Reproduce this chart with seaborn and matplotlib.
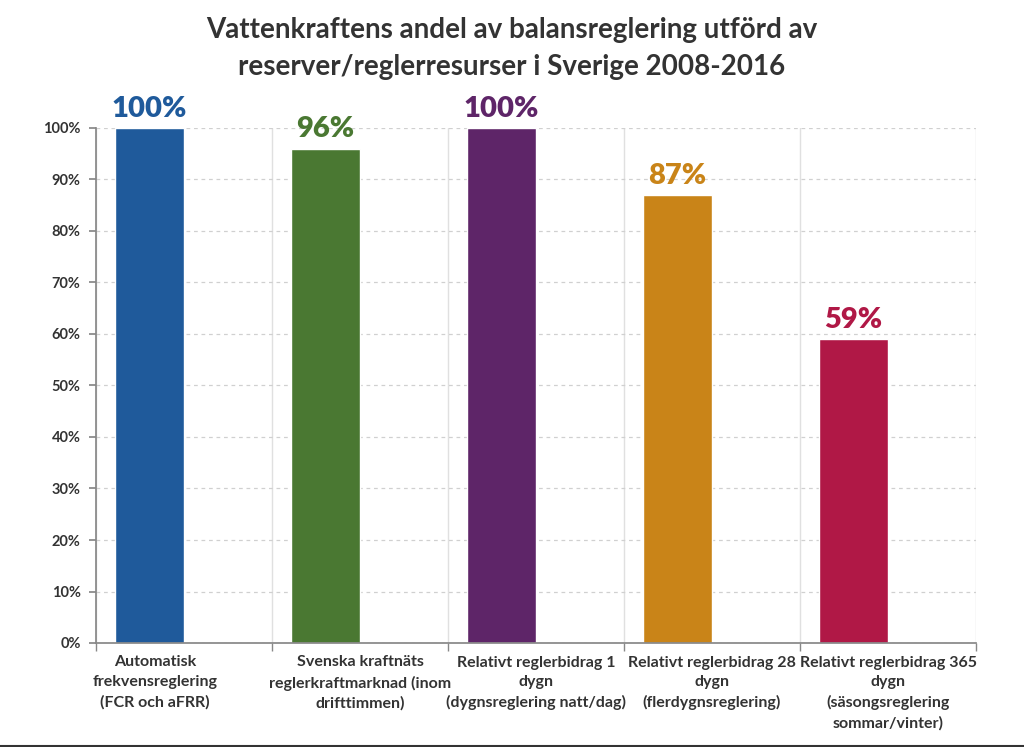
import numpy as np
import pandas as pd
import seaborn as sns
import matplotlib.pyplot as plt
from matplotlib.ticker import PercentFormatter, FixedLocator
from matplotlib.transforms import ScaledTranslation

# data
categories = [
    "Automatisk\nfrekvensreglering\n(FCR och aFRR)",
    "Svenska kraftnäts\nreglerkraftmarknad (inom\ndrifttimmen)",
    "Relativt reglerbidrag 1\ndygn\n(dygnsreglering natt/dag)",
    "Relativt reglerbidrag 28\ndygn\n(flerdygnsreglering)",
    "Relativt reglerbidrag 365\ndygn\n(säsongsreglering\nsommar/vinter)",
]
shares = [1.00, 0.96, 1.00, 0.87, 0.59]
value_labels = ["100%", "96%", "100%", "87%", "59%"]
colors = ["#1F5A9B", "#4A7832", "#5E2568", "#C98418", "#B01846"]
title = "Vattenkraftens andel av balansreglering utförd av\nreserver/reglerresurser i Sverige 2008-2016"

df = pd.DataFrame({"kategori": categories, "andel": shares})

sns.set_theme(style="white")
plt.rcParams["font.family"] = ["Lato", "DejaVu Sans"]

fig = plt.figure(figsize=(10.24, 7.47), dpi=100)
ax = fig.add_axes([96 / 1024, 104 / 747, 880 / 1024, 515 / 747])

sns.barplot(data=df, x="kategori", y="andel", hue="kategori", palette=colors,
            width=0.39, legend=False, saturation=1, ax=ax)

# Excel-style offset: bars sit left of the category centre
for p in ax.patches:
    p.set_x(p.get_x() - 0.195)

for i, (v, lab) in enumerate(zip(shares, value_labels)):
    ax.text(i - 0.195, v + 0.012, lab, ha="center", va="bottom",
            fontsize=21, fontweight="heavy", color=colors[i])

ax.set_xlim(-0.5, len(categories) - 0.5)
ax.set_ylim(0, 1)
ax.yaxis.set_major_locator(FixedLocator(np.arange(0, 1.01, 0.1)))
ax.yaxis.set_major_formatter(PercentFormatter(1.0, decimals=0))
ax.set_xlabel("")
ax.set_ylabel("")

# gridlines: dashed horizontal, solid vertical at category boundaries
ax.set_axisbelow(True)
ax.yaxis.grid(True, linestyle=(0, (3, 3)), color="#d0d0d0", linewidth=0.9)
ax.xaxis.set_minor_locator(FixedLocator(np.arange(-0.5, len(categories), 1.0)))
ax.xaxis.grid(True, which="minor", color="#e0e0e0", linewidth=1)
ax.xaxis.grid(False, which="major")

ax.tick_params(axis="x", which="major", length=0, pad=9,
               labelsize=11.5, labelcolor="#333333")
ax.tick_params(axis="x", which="minor", length=6, color="#888888", direction="out", bottom=True)
ax.tick_params(axis="y", length=5, color="#888888", direction="out", left=True,
               labelsize=10.5, labelcolor="#333333", pad=6)
for t in ax.get_xticklabels():
    t.set_fontweight("bold")
    t.set_linespacing(1.5)
for t in ax.get_yticklabels():
    t.set_fontweight("bold")

# the first category label sits a bit left of its slot centre in the original
first = ax.get_xticklabels()[0]
first.set_transform(first.get_transform() + ScaledTranslation(-0.29, 0, fig.dpi_scale_trans))

for s in ["top", "right"]:
    ax.spines[s].set_visible(False)
ax.spines["left"].set_color("#888888")
ax.spines["bottom"].set_color("#888888")

fig.text(0.5, 0.977, title, ha="center", va="top", fontsize=20,
         fontweight="bold", color="#333333", linespacing=1.5)

# dark frame line along the bottom edge
fig.add_artist(plt.Line2D([0, 1], [0.002, 0.002], color="#333333", linewidth=1.5,
                          transform=fig.transFigure))

fig.savefig("out.png", dpi=100)
